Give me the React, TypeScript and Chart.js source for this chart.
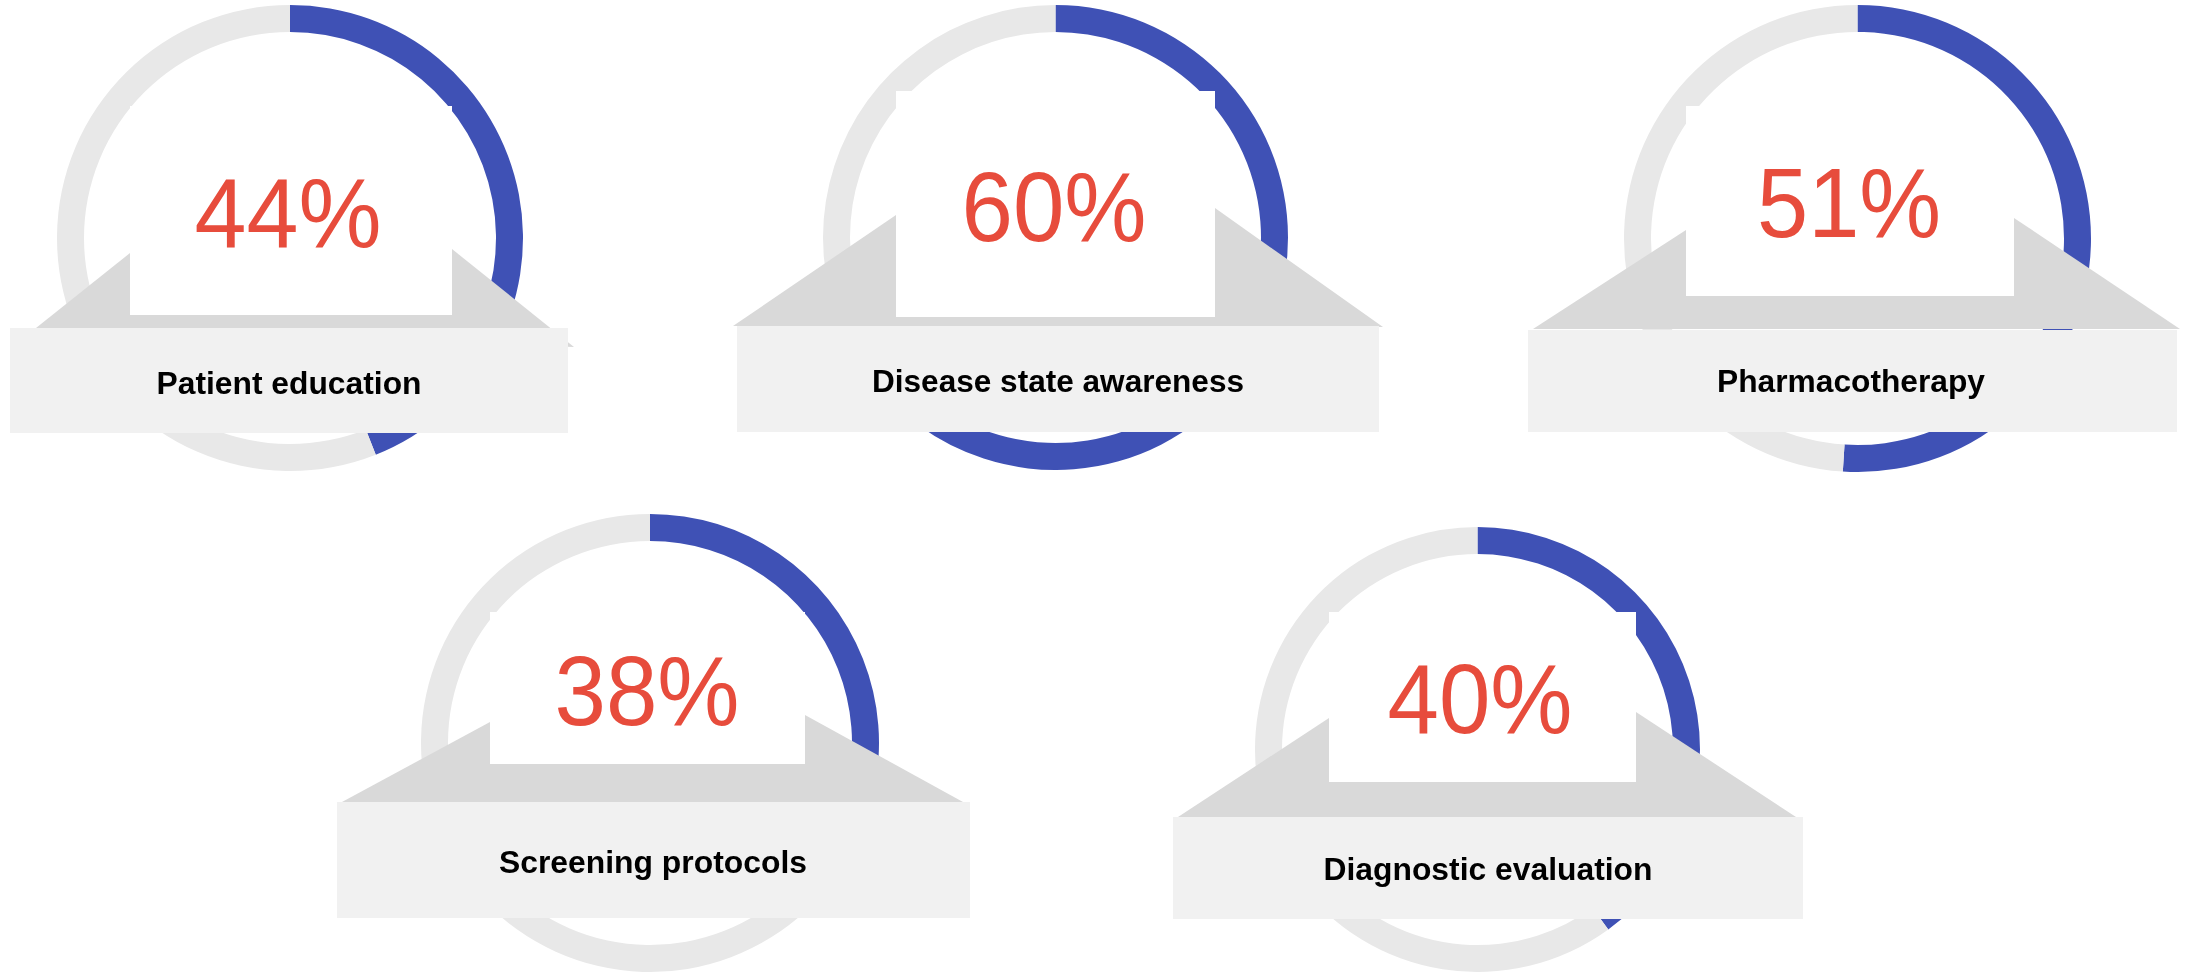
import React, { useEffect, useRef } from "react";
import { Chart, registerables } from "chart.js";

Chart.register(...registerables);

// ---- data ----
const categories = [
  "Patient education",
  "Disease state awareness",
  "Pharmacotherapy",
  "Screening protocols",
  "Diagnostic evaluation",
];
const values = [44, 60, 51, 38, 40];
const valueLabels = values.map((v) => `${v}%`);

// ---- palette ----
const BLUE = "#3F51B5";
const TRACK = "#E8E8E8";
const RED = "#E74C3C";
const BANNER = "#D9D9D9";
const LABEL_BG = "#F1F1F1";
const FONT = "'Liberation Sans', Arial, Helvetica, sans-serif";
const RING_THICKNESS = 27;

// ---- layout (page pixels) ----
type Box = { x: number; y: number; w: number; h: number };

// ring: top-left corner and diameter
const ringBoxes = [
  { x: 57, y: 5, d: 466 },
  { x: 823, y: 5, d: 465 },
  { x: 1624, y: 5, d: 467 },
  { x: 421, y: 514, d: 458 },
  { x: 1255, y: 527, d: 445 },
];

// white card that holds the percentage
const cardBoxes: Box[] = [
  { x: 130, y: 106, w: 322, h: 209 },
  { x: 896, y: 91, w: 319, h: 226 },
  { x: 1686, y: 106, w: 328, h: 190 },
  { x: 490, y: 612, w: 315, h: 152 },
  { x: 1329, y: 612, w: 307, h: 170 },
];

// grey banner wings behind the card: top-left, top-right, bottom-right, bottom-left
const bannerPoints: number[][][] = [
  [[130, 253], [452, 249], [574, 347], [36, 328]],
  [[896, 215], [1215, 208], [1383, 327], [733, 326]],
  [[1686, 230], [2014, 218], [2180, 329], [1533, 329]],
  [[490, 722], [805, 715], [963, 802], [342, 802]],
  [[1329, 718], [1636, 712], [1796, 817], [1178, 817]],
];

// light label plate under the banner
const labelBoxes: Box[] = [
  { x: 10, y: 328, w: 558, h: 105 },
  { x: 737, y: 326, w: 642, h: 106 },
  { x: 1528, y: 330, w: 649, h: 102 },
  { x: 337, y: 802, w: 633, h: 116 },
  { x: 1173, y: 817, w: 630, h: 102 },
];

// percentage text: centre x, baseline y, drawn width
const pctPlacement = [
  { cx: 288, base: 247, len: 187 },
  { cx: 1054, base: 241, len: 185 },
  { cx: 1849, base: 237, len: 184 },
  { cx: 647, base: 725, len: 185 },
  { cx: 1480, base: 733, len: 185 },
];

// category text: centre x, baseline y, drawn width
const namePlacement = [
  { cx: 289, base: 394, len: 265 },
  { cx: 1058, base: 392, len: 372 },
  { cx: 1851, base: 392, len: 268 },
  { cx: 653, base: 873, len: 308 },
  { cx: 1488, base: 880, len: 329 },
];

function Ring({ value, d, x, y }: { value: number; d: number; x: number; y: number }) {
  const ref = useRef<HTMLCanvasElement | null>(null);
  useEffect(() => {
    if (!ref.current) return;
    const chart = new Chart(ref.current, {
      type: "doughnut",
      data: {
        labels: ["value", "rest"],
        datasets: [
          {
            data: [value, 100 - value],
            backgroundColor: [BLUE, TRACK],
            borderWidth: 0,
            hoverOffset: 0,
          },
        ],
      },
      options: {
        responsive: false,
        animation: false,
        cutout: d / 2 - RING_THICKNESS,
        events: [],
        layout: { padding: 0 },
        plugins: { legend: { display: false }, tooltip: { enabled: false } },
      },
    });
    return () => chart.destroy();
  }, [value, d]);
  return (
    <canvas
      ref={ref}
      width={d}
      height={d}
      style={{ position: "absolute", left: x, top: y, width: d, height: d, display: "block" }}
    />
  );
}

export default function App() {
  useEffect(() => {
    document.body.style.margin = "0";
    document.body.style.overflow = "hidden";
  }, []);

  return (
    <div
      style={{
        position: "absolute",
        left: 0,
        top: 0,
        width: 2195,
        height: 972,
        overflow: "hidden",
        background: "#FFFFFF",
      }}
    >
      {values.map((v, i) => (
        <Ring key={i} value={v} d={ringBoxes[i].d} x={ringBoxes[i].x} y={ringBoxes[i].y} />
      ))}
      <svg
        width={2195}
        height={972}
        style={{ position: "absolute", left: 0, top: 0, pointerEvents: "none" }}
      >
        {categories.map((name, i) => {
          const card = cardBoxes[i];
          const lab = labelBoxes[i];
          const pts = bannerPoints[i].map((p) => p.join(",")).join(" ");
          const pct = pctPlacement[i];
          const nm = namePlacement[i];
          return (
            <g key={name}>
              <polygon points={pts} fill={BANNER} />
              <rect x={card.x} y={card.y} width={card.w} height={card.h} fill="#FFFFFF" />
              <rect x={lab.x} y={lab.y} width={lab.w} height={lab.h} fill={LABEL_BG} />
              <text
                x={pct.cx}
                y={pct.base}
                textAnchor="middle"
                fontFamily={FONT}
                fontSize={98}
                fill={RED}
                textLength={pct.len}
                lengthAdjust="spacingAndGlyphs"
              >
                {valueLabels[i]}
              </text>
              <text
                x={nm.cx}
                y={nm.base}
                textAnchor="middle"
                fontFamily={FONT}
                fontSize={31}
                fontWeight="bold"
                fill="#000000"
                textLength={nm.len}
                lengthAdjust="spacingAndGlyphs"
              >
                {name}
              </text>
            </g>
          );
        })}
      </svg>
    </div>
  );
}
